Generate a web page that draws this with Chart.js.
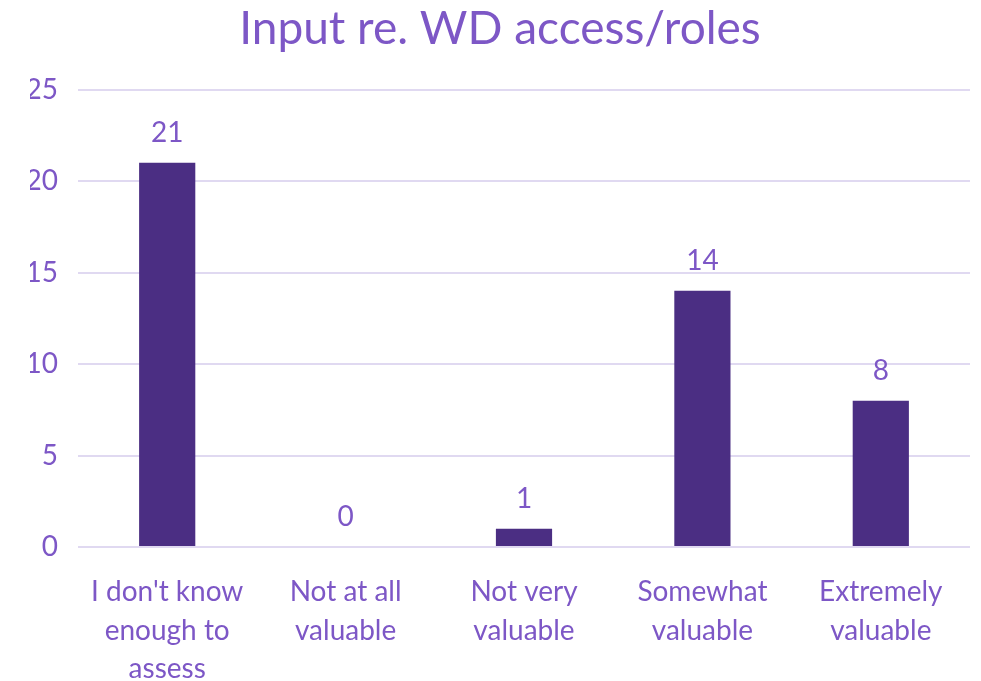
<!DOCTYPE html>
<html>
<head>
<meta charset="utf-8">
<script src="https://cdn.jsdelivr.net/npm/chart.js@4"></script>
<style>
  html, body { margin: 0; padding: 0; background: #fff; }
  #wrap { width: 981px; height: 681px; }
</style>
</head>
<body>
<div id="wrap"><canvas id="chart"></canvas></div>
<script>
const categories = [
  ["I don't know", "enough to", "assess"],
  ["Not at all", "valuable"],
  ["Not very", "valuable"],
  ["Somewhat", "valuable"],
  ["Extremely", "valuable"]
];
const responses = [21, 0, 1, 14, 8];
const yTicks = [0, 5, 10, 15, 20, 25];

const textColor = '#7d57c6';
const barColor = '#4b2e83';
const gridColor = '#e0d9f1';
const fontFamily = 'Lato, "Open Sans", sans-serif';

// values drawn above each bar
const valueLabels = {
  id: 'valueLabels',
  afterDatasetsDraw(chart) {
    const ctx = chart.ctx;
    const meta = chart.getDatasetMeta(0);
    ctx.save();
    ctx.fillStyle = textColor;
    ctx.font = '28px ' + fontFamily;
    ctx.textAlign = 'center';
    ctx.textBaseline = 'middle';
    meta.data.forEach((bar, i) => {
      ctx.fillText(String(responses[i]), bar.x, bar.y - 30);
    });
    ctx.restore();
  }
};

new Chart(document.getElementById('chart'), {
  type: 'bar',
  data: {
    labels: categories,
    datasets: [{
      data: responses,
      backgroundColor: barColor,
      categoryPercentage: 1,
      barPercentage: 0.315
    }]
  },
  options: {
    responsive: true,
    maintainAspectRatio: false,
    animation: false,
    layout: { padding: { left: 30, right: 11, top: 0, bottom: 0 } },
    plugins: {
      legend: { display: false },
      tooltip: { enabled: false },
      title: {
        display: true,
        text: 'Input re. WD access/roles',
        color: textColor,
        font: { family: fontFamily, size: 46, weight: 'normal', lineHeight: 1.1 },
        padding: { top: 4, bottom: 35 }
      }
    },
    scales: {
      x: {
        grid: { display: false },
        border: { display: false },
        ticks: {
          color: textColor,
          font: { family: fontFamily, size: 28, lineHeight: 1.375 },
          padding: 18,
          maxRotation: 0,
          autoSkip: false
        },
        afterFit: s => { s.height = 134; }
      },
      y: {
        min: 0,
        max: 25,
        afterBuildTicks: s => { s.ticks = yTicks.map(v => ({ value: v })); },
        grid: { color: gridColor, lineWidth: 2, drawTicks: false },
        border: { display: false },
        ticks: {
          color: textColor,
          font: { family: fontFamily, size: 28 },
          padding: 20
        },
        afterFit: s => { s.width = 48; }
      }
    }
  },
  plugins: [valueLabels]
});
</script>
</body>
</html>
